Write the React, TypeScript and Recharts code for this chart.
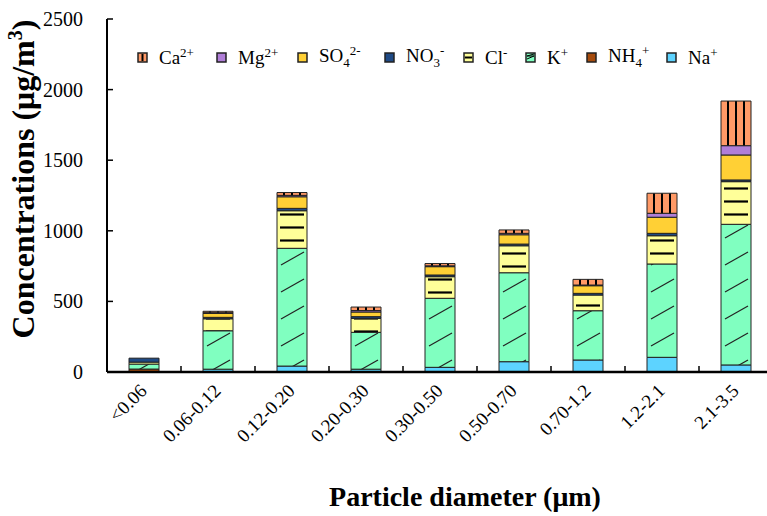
import { BarChart, Bar, XAxis, YAxis } from 'recharts'

const sizes = ['<0.06', '0.06-0.12', '0.12-0.20', '0.20-0.30', '0.30-0.50', '0.50-0.70', '0.70-1.2', '1.2-2.1', '2.1-3.5']
const na = [2, 20, 42, 20, 33, 73, 85, 104, 50]
const nh4 = [19, 0, 0, 0, 0, 0, 0, 0, 0]
const k = [35, 272, 834, 261, 489, 630, 349, 661, 996]
const cl = [14, 85, 266, 99, 153, 191, 111, 200, 302]
const no3 = [28, 10, 17, 12, 12, 12, 12, 17, 12]
const so4 = [0, 28, 82, 33, 59, 66, 54, 114, 177]
const mg = [0, 5, 10, 10, 6, 10, 5, 28, 66]
const ca = [0, 10, 20, 25, 16, 24, 40, 142, 316]
const yTicks = [0, 500, 1000, 1500, 2000, 2500]

const data = sizes.map((size, i) => ({
  size,
  na: na[i],
  nh4: nh4[i],
  k: k[i],
  cl: cl[i],
  no3: no3[i],
  so4: so4[i],
  mg: mg[i],
  ca: ca[i],
}))

const FONT = "'Liberation Serif', 'Times New Roman', serif"
const BAND = 74
const BAR = 30
const BAR_X0 = 107 + (BAND - BAR) / 2
const AXIS_Y = 372

// stacking order bottom -> top; w = legend slot width
const series = [
  { key: 'na', fill: '#5DD3FF', ion: ['Na', '', '+'], w: 60 },
  { key: 'nh4', fill: '#A64B0C', ion: ['NH', '4', '+'], w: 80 },
  { key: 'k', fill: 'url(#pK)', swatch: '#80FFC0', ion: ['K', '', '+'], w: 61 },
  { key: 'cl', fill: 'url(#pCl)', swatch: '#FFFF99', ion: ['Cl', '', '-'], w: 62 },
  { key: 'no3', fill: '#1F4A85', ion: ['NO', '3', '-'], w: 79 },
  { key: 'so4', fill: '#FFD035', ion: ['SO', '4', '2-'], w: 87 },
  { key: 'mg', fill: '#B07ED8', ion: ['Mg', '', '2+'], w: 81 },
  { key: 'ca', fill: 'url(#pCa)', swatch: '#FF9966', ion: ['Ca', '', '2+'], w: 79 },
]

function YTick({ x, y, payload }: any) {
  return (
    <g>
      <line x1={x} x2={x + 6} y1={y} y2={y} stroke="#000" strokeWidth={1.5} />
      <text x={x - 24} y={y} dy={7} textAnchor="end" fontFamily={FONT} fontSize={20} fill="#000">
        {payload.value}
      </text>
    </g>
  )
}

function XTick({ x, y, payload, index }: any) {
  return (
    <g>
      {index < sizes.length - 1 && (
        <line x1={x + BAND / 2} x2={x + BAND / 2} y1={AXIS_Y} y2={AXIS_Y - 6} stroke="#000" strokeWidth={1.5} />
      )}
      <text
        transform={`translate(${x + 4},${y + 20}) rotate(-45)`}
        textAnchor="end"
        fontFamily={FONT}
        fontSize={19}
        fill="#000"
      >
        {payload.value}
      </text>
    </g>
  )
}

function Swatch({ s }: any) {
  const base = s.swatch ?? s.fill
  return (
    <svg width={11} height={11} style={{ marginRight: 11, flex: 'none' }}>
      <rect x={1} y={1} width={9} height={9} fill={base} stroke="#222" strokeWidth={1.5} />
      {s.key === 'ca' && <line x1={5.5} x2={5.5} y1={2} y2={9} stroke="#000" strokeWidth={2} />}
      {s.key === 'cl' && <line x1={2} x2={9} y1={5.5} y2={5.5} stroke="#000" strokeWidth={2} />}
      {s.key === 'k' && <polyline points="2,7 9,4 2,4 9,2" fill="none" stroke="#000" strokeWidth={1} />}
    </svg>
  )
}

function ChartLegend() {
  const items = [...series].reverse()
  return (
    <div
      style={{
        position: 'absolute',
        left: 137,
        top: 43,
        display: 'flex',
        alignItems: 'center',
        fontFamily: FONT,
        fontSize: 19,
        color: '#000',
      }}
    >
      {items.map((s) => (
        <div key={s.key} style={{ display: 'flex', alignItems: 'center', width: s.w, flex: 'none' }}>
          <Swatch s={s} />
          <span style={{ whiteSpace: 'nowrap' }}>
            {s.ion[0]}
            {s.ion[1] && <sub style={{ fontSize: 13 }}>{s.ion[1]}</sub>}
            <sup style={{ fontSize: 13 }}>{s.ion[2]}</sup>
          </span>
        </div>
      ))}
    </div>
  )
}

export default function App() {
  return (
    <div style={{ position: 'absolute', left: 0, top: 0, width: 767, height: 516, overflow: 'hidden', background: '#fff' }}>
      <BarChart width={773} height={516} data={data} margin={{ top: 19, right: 0, bottom: 0, left: 0 }}>
        <defs>
          <pattern id="pK" patternUnits="userSpaceOnUse" x={BAR_X0} y={0} width={BAND} height={27}>
            <rect width={BAND} height={27} fill="#80FFC0" />
            <line x1={4} y1={22} x2={27} y2={9} stroke="#222" strokeWidth={1.2} />
          </pattern>
          <pattern id="pCl" patternUnits="userSpaceOnUse" x={BAR_X0} y={0} width={BAND} height={13}>
            <rect width={BAND} height={13} fill="#FFFF99" />
            <line x1={3} y1={6.5} x2={27} y2={6.5} stroke="#000" strokeWidth={2.2} />
          </pattern>
          <pattern id="pCa" patternUnits="userSpaceOnUse" x={BAR_X0} y={0} width={BAND} height={10}>
            <rect width={BAND} height={10} fill="#FF9966" />
            <line x1={7} y1={0} x2={7} y2={10} stroke="#000" strokeWidth={2} />
            <line x1={15} y1={0} x2={15} y2={10} stroke="#000" strokeWidth={2} />
            <line x1={23} y1={0} x2={23} y2={10} stroke="#000" strokeWidth={2} />
          </pattern>
        </defs>
        <XAxis
          dataKey="size"
          height={144}
          interval={0}
          tickLine={false}
          tickSize={0}
          tickMargin={0}
          axisLine={{ stroke: '#000', strokeWidth: 2.5 }}
          tick={<XTick />}
          label={{
            content: () => (
              <text x={465} y={506} textAnchor="middle" fontFamily={FONT} fontWeight="bold" fontSize={28} fill="#000">
                Particle diameter (μm)
              </text>
            ),
          }}
        />
        <YAxis
          width={107}
          domain={[0, 2500]}
          ticks={yTicks}
          tickLine={false}
          tickSize={0}
          tickMargin={0}
          axisLine={{ stroke: '#000', strokeWidth: 2 }}
          tick={<YTick />}
          label={{
            content: () => (
              <text
                transform="translate(34,179) rotate(-90)"
                textAnchor="middle"
                fontFamily={FONT}
                fontWeight="bold"
                fontSize={32}
                fill="#000"
              >
                Concentrations (μg/m<tspan dy={-12} fontSize={20}>3</tspan>
                <tspan dy={12}>)</tspan>
              </text>
            ),
          }}
        />
        {series.map((s) => (
          <Bar
            key={s.key}
            dataKey={s.key}
            stackId="a"
            barSize={BAR}
            fill={s.fill}
            stroke="#222"
            strokeWidth={1}
            isAnimationActive={false}
          />
        ))}
      </BarChart>
      <ChartLegend />
    </div>
  )
}
